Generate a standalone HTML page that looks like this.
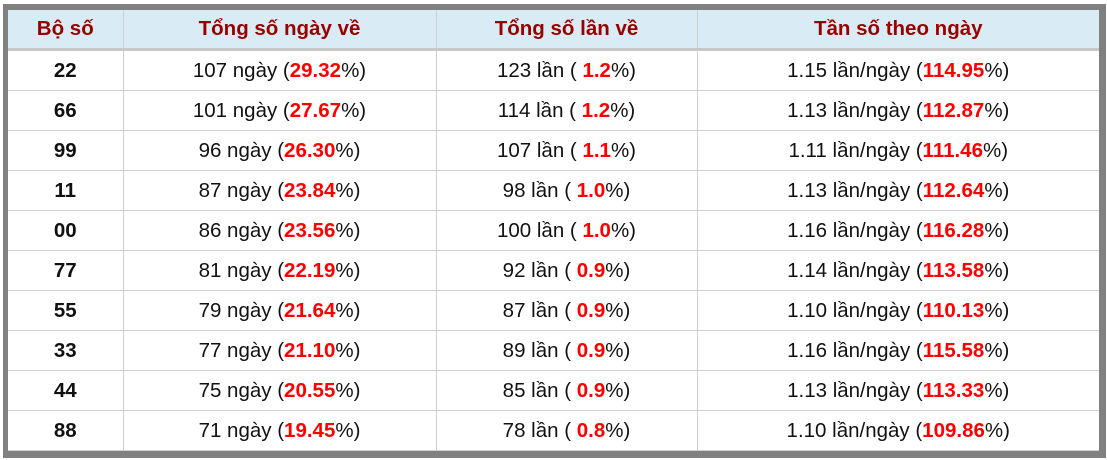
<!DOCTYPE html>
<html><head><meta charset="utf-8"><style>
body{margin:0;width:1107px;height:460px;background:#fff;font-family:"Liberation Sans",Arial,sans-serif;position:relative;overflow:hidden}
.box{position:absolute;left:3px;top:4px;width:1091px;height:441px;border:5px solid #808080;border-top-width:6px;border-bottom-width:7px;border-right-width:7px;background:#fff;overflow:hidden}
table{border-collapse:collapse;width:1091px;table-layout:fixed}
td,th{border:1px solid #cfcfcf;text-align:center;font-size:20.5px;padding:0;height:39px;color:#111}
tr:first-child td,tr:first-child th{border-top:none}
td:first-child,th:first-child{border-left:none}
td:last-child,th:last-child{border-right:none}
th{background:#d9ecf5;color:#9b0000;font-weight:bold;height:38px;border-bottom:3px solid #c8c8c8}
td.b{font-weight:bold}
span{color:#f00;font-weight:bold}
</style></head><body>
<div class="box"><table>
<colgroup><col style="width:115px"><col style="width:313px"><col style="width:261px"><col style="width:402px"></colgroup>
<tr><th>Bộ số</th><th>Tổng số ngày về</th><th>Tổng số lần về</th><th>Tần số theo ngày</th></tr>
<tr><td class="b">22</td><td>107 ngày (<span>29.32</span>%)</td><td>123 lần ( <span>1.2</span>%)</td><td>1.15 lần/ngày (<span>114.95</span>%)</td></tr>
<tr><td class="b">66</td><td>101 ngày (<span>27.67</span>%)</td><td>114 lần ( <span>1.2</span>%)</td><td>1.13 lần/ngày (<span>112.87</span>%)</td></tr>
<tr><td class="b">99</td><td>96 ngày (<span>26.30</span>%)</td><td>107 lần ( <span>1.1</span>%)</td><td>1.11 lần/ngày (<span>111.46</span>%)</td></tr>
<tr><td class="b">11</td><td>87 ngày (<span>23.84</span>%)</td><td>98 lần ( <span>1.0</span>%)</td><td>1.13 lần/ngày (<span>112.64</span>%)</td></tr>
<tr><td class="b">00</td><td>86 ngày (<span>23.56</span>%)</td><td>100 lần ( <span>1.0</span>%)</td><td>1.16 lần/ngày (<span>116.28</span>%)</td></tr>
<tr><td class="b">77</td><td>81 ngày (<span>22.19</span>%)</td><td>92 lần ( <span>0.9</span>%)</td><td>1.14 lần/ngày (<span>113.58</span>%)</td></tr>
<tr><td class="b">55</td><td>79 ngày (<span>21.64</span>%)</td><td>87 lần ( <span>0.9</span>%)</td><td>1.10 lần/ngày (<span>110.13</span>%)</td></tr>
<tr><td class="b">33</td><td>77 ngày (<span>21.10</span>%)</td><td>89 lần ( <span>0.9</span>%)</td><td>1.16 lần/ngày (<span>115.58</span>%)</td></tr>
<tr><td class="b">44</td><td>75 ngày (<span>20.55</span>%)</td><td>85 lần ( <span>0.9</span>%)</td><td>1.13 lần/ngày (<span>113.33</span>%)</td></tr>
<tr><td class="b">88</td><td>71 ngày (<span>19.45</span>%)</td><td>78 lần ( <span>0.8</span>%)</td><td>1.10 lần/ngày (<span>109.86</span>%)</td></tr>
</table></div>
</body></html>
